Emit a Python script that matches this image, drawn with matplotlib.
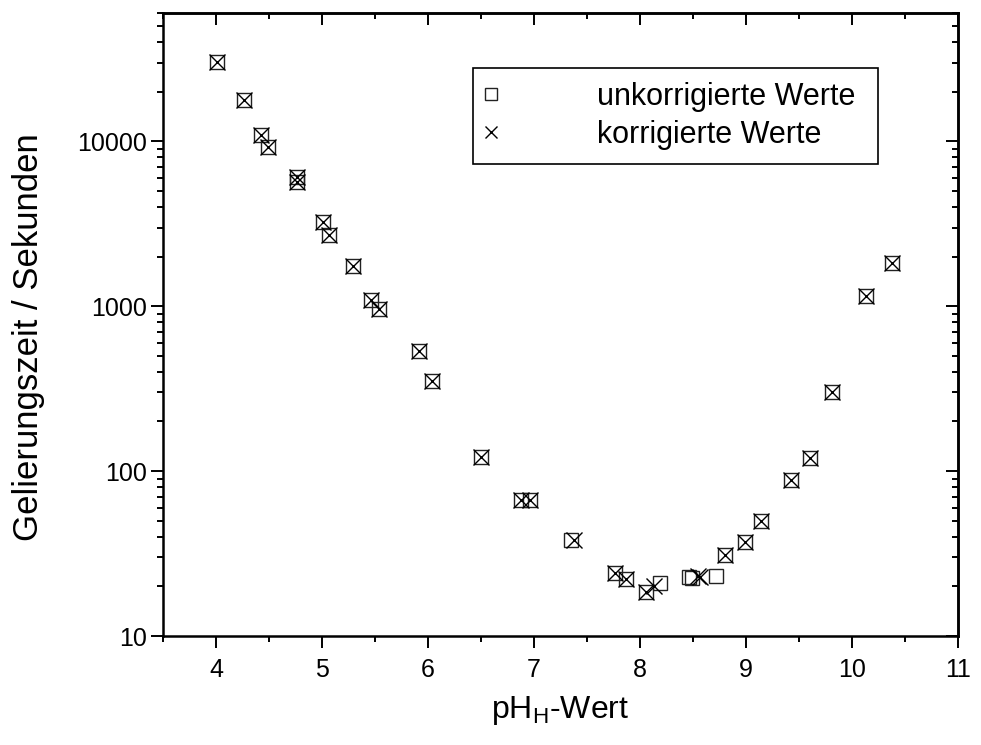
import matplotlib
matplotlib.use('Agg')
import matplotlib.pyplot as plt
from matplotlib.ticker import FixedLocator, LogLocator, MultipleLocator, FuncFormatter, NullFormatter

plt.rcParams['font.family'] = ['Liberation Sans', 'DejaVu Sans']
plt.rcParams['mathtext.fontset'] = 'custom'
plt.rcParams['mathtext.rm'] = 'Liberation Sans'

# uncorrected values (squares)
ph_unkorr = [4.01, 4.26, 4.42, 4.49, 4.76, 4.76, 5.01, 5.07, 5.29, 5.46, 5.54,
             5.91, 6.04, 6.50, 6.88, 6.96, 7.35, 7.76, 7.87, 8.06, 8.19, 8.46,
             8.49, 8.72, 8.80, 8.99, 9.14, 9.42, 9.60, 9.81, 10.13, 10.38]
zeit_unkorr = [30100, 17700, 10900, 9200, 6040, 5630, 3220, 2720, 1765, 1097, 967,
               537, 353, 122, 67, 67, 38.3, 24.0, 22.1, 18.6, 21.1, 22.9,
               22.6, 23.1, 31.0, 37.2, 49.9, 88.5, 120, 303, 1160, 1840]

# corrected values (crosses)
ph_korr = [4.01, 4.26, 4.42, 4.49, 4.76, 4.76, 5.01, 5.07, 5.29, 5.46, 5.54,
           5.91, 6.04, 6.50, 6.88, 6.96, 7.38, 7.76, 7.87, 8.06, 8.13, 8.55,
           8.57, 8.80, 8.99, 9.14, 9.42, 9.60, 9.81, 10.13, 10.38]
zeit_korr = [30100, 17700, 10900, 9200, 6040, 5630, 3220, 2720, 1765, 1097, 967,
             537, 353, 122, 67, 67, 38.3, 24.0, 22.1, 18.6, 20.1, 23.1,
             22.7, 31.0, 37.2, 49.9, 88.5, 120, 303, 1160, 1840]

y_ticks = [10, 100, 1000, 10000]
x_ticks = [4, 5, 6, 7, 8, 9, 10, 11]

fig = plt.figure(figsize=(9.81, 7.45), dpi=100)
ax = fig.add_axes([0.1662, 0.1463, 0.8104, 0.8363])

ax.plot(ph_unkorr, zeit_unkorr, linestyle='none', marker='s', markersize=9.5,
        markerfacecolor='none', markeredgecolor='#222222', markeredgewidth=1.0,
        label='unkorrigierte Werte')
ax.plot(ph_korr, zeit_korr, linestyle='none', marker='x', markersize=11,
        color='black', markeredgewidth=1.0, label='korrigierte Werte')

ax.set_yscale('log')
ax.set_xlim(3.5, 11)
ax.set_ylim(10, 60000)

ax.xaxis.set_major_locator(FixedLocator(x_ticks))
ax.xaxis.set_minor_locator(MultipleLocator(0.5))
ax.yaxis.set_major_locator(FixedLocator(y_ticks))
ax.yaxis.set_major_formatter(FuncFormatter(lambda v, p: f'{int(v)}'))
ax.yaxis.set_minor_locator(LogLocator(base=10, subs=range(2, 10), numticks=20))
ax.yaxis.set_minor_formatter(NullFormatter())

for sp in ax.spines.values():
    sp.set_linewidth(1.8)

# outward ticks on left/bottom, inward ticks on right/top
ax.tick_params(which='major', direction='out', length=8.5, width=1.4,
               labelsize=18, pad=3)
ax.tick_params(which='minor', direction='out', length=4.3, width=1.4)
ax.tick_params(axis='x', pad=7)

ax_top = ax.secondary_xaxis('top')
ax_top.xaxis.set_major_locator(FixedLocator(x_ticks))
ax_top.xaxis.set_minor_locator(MultipleLocator(0.5))
ax_top.tick_params(which='major', direction='in', length=8.5, width=1.4, labeltop=False)
ax_top.tick_params(which='minor', direction='in', length=4.3, width=1.4)
ax_top.spines['top'].set_linewidth(1.8)

ax_right = ax.secondary_yaxis('right')
ax_right.yaxis.set_major_locator(FixedLocator(y_ticks))
ax_right.yaxis.set_minor_locator(LogLocator(base=10, subs=range(2, 10), numticks=20))
ax_right.yaxis.set_minor_formatter(NullFormatter())
ax_right.tick_params(which='major', direction='in', length=8.5, width=1.4, labelright=False)
ax_right.tick_params(which='minor', direction='in', length=4.3, width=1.4)
ax_right.spines['right'].set_linewidth(1.8)

ax.set_xlabel('pH$_\\mathregular{H}$-Wert', fontsize=23, labelpad=9)
ax.set_ylabel('Gelierungszeit / Sekunden', fontsize=25)
ax.yaxis.set_label_coords(-0.148, 0.48)

leg = ax.legend(loc='upper left', bbox_to_anchor=(0.39, 0.767, 0.509, 0.144),
                mode='expand', fontsize=22,
                frameon=True, fancybox=False, edgecolor='black', framealpha=1,
                markerscale=0.85, handletextpad=3.35, labelspacing=0.25,
                borderpad=0.45, borderaxespad=0, handlelength=0.25)
leg.get_frame().set_linewidth(1.2)

plt.savefig('out.png', dpi=100)
plt.close()
